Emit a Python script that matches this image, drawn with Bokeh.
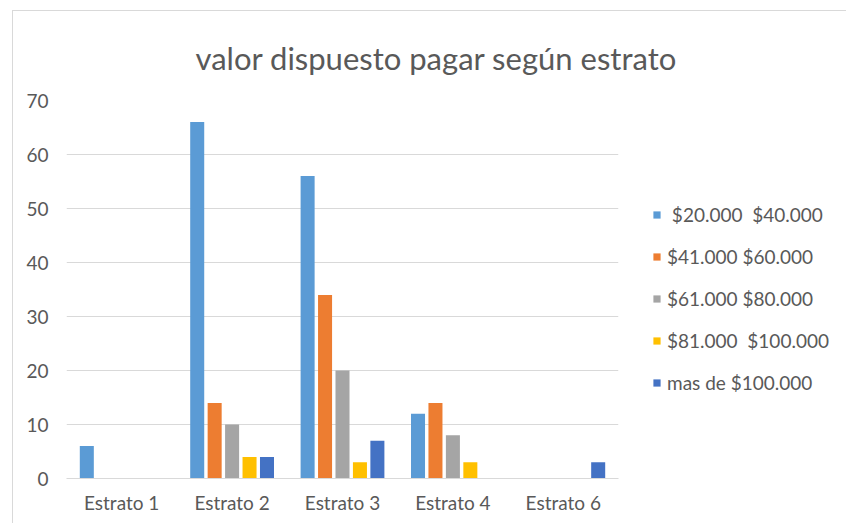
from bokeh.plotting import figure
from bokeh.models import FactorRange, Range1d, Legend, LegendItem, ColumnDataSource
from bokeh.transform import dodge
from bokeh.embed import file_html
from bokeh.resources import INLINE

categories = ["Estrato 1", "Estrato 2", "Estrato 3", "Estrato 4", "Estrato 6"]
series_names = [" $20.000  $40.000", "$41.000 $60.000", "$61.000 $80.000",
                "$81.000  $100.000", "mas de $100.000"]
s20_40 = [6, 66, 56, 12, 0]
s41_60 = [0, 14, 34, 14, 0]
s61_80 = [0, 10, 20, 8, 0]
s81_100 = [0, 4, 3, 3, 0]
s_mas100 = [0, 4, 7, 0, 3]
y_ticks = [0, 10, 20, 30, 40, 50, 60, 70]

colors = ["#5B9BD5", "#ED7D31", "#A5A5A5", "#FFC000", "#4472C4"]
series = [s20_40, s41_60, s61_80, s81_100, s_mas100]
offsets = [-0.316, -0.158, 0.0, 0.158, 0.316]

data = {"cat": categories}
for i, s in enumerate(series):
    data[f"s{i}"] = s
source = ColumnDataSource(data)

p = figure(x_range=FactorRange(*categories), y_range=Range1d(0, 70),
           frame_width=552, frame_height=378, output_backend="svg", toolbar_location=None,
           min_border_left=53, min_border_right=10, min_border_top=89,
           min_border_bottom=45, margin=(10, 0, 0, 12),
           title="valor dispuesto pagar según estrato")
p.styles = {"border-top": "1px solid #d9d9d9", "border-left": "1px solid #d9d9d9"}

renderers = []
for i in range(5):
    r = p.vbar(x=dodge("cat", offsets[i], range=p.x_range), top=f"s{i}", width=0.127,
               source=source, fill_color=colors[i], line_color=None)
    renderers.append(r)

p.title.text_font = "Lato"
p.title.text_font_size = "31px"
p.title.text_font_style = "normal"
p.title.text_color = "#595959"
p.title.align = "left"
p.title.offset = 129
p.title.standoff = 48

p.outline_line_color = None
p.xgrid.grid_line_color = None
p.ygrid.grid_line_color = "#d9d9d9"
p.ygrid.grid_line_width = 1

p.yaxis.ticker = y_ticks
p.yaxis.axis_line_color = None
p.yaxis.major_tick_line_color = None
p.yaxis.minor_tick_line_color = None
p.yaxis.major_label_text_font = "Lato"
p.yaxis.major_label_text_font_size = "19px"
p.yaxis.major_label_text_color = "#595959"
p.yaxis.major_label_standoff = 12

p.xaxis.axis_line_color = "#d9d9d9"
p.xaxis.major_tick_line_color = None
p.xaxis.minor_tick_line_color = None
p.xaxis.major_label_text_font = "Lato"
p.xaxis.major_label_text_font_size = "19px"
p.xaxis.major_label_text_color = "#595959"
p.xaxis.major_label_standoff = 6

items = [LegendItem(label=series_names[i], renderers=[renderers[i]]) for i in range(5)]
legend = Legend(items=items, location=(34, 84), glyph_width=9, glyph_height=9,
                label_height=22, spacing=19, label_standoff=6, padding=0, margin=0,
                border_line_color=None, background_fill_alpha=0,
                label_text_font="Lato", label_text_font_size="19px",
                label_text_color="#595959")
p.add_layout(legend, "right")

open("out.html", "w").write(file_html(p, INLINE))
